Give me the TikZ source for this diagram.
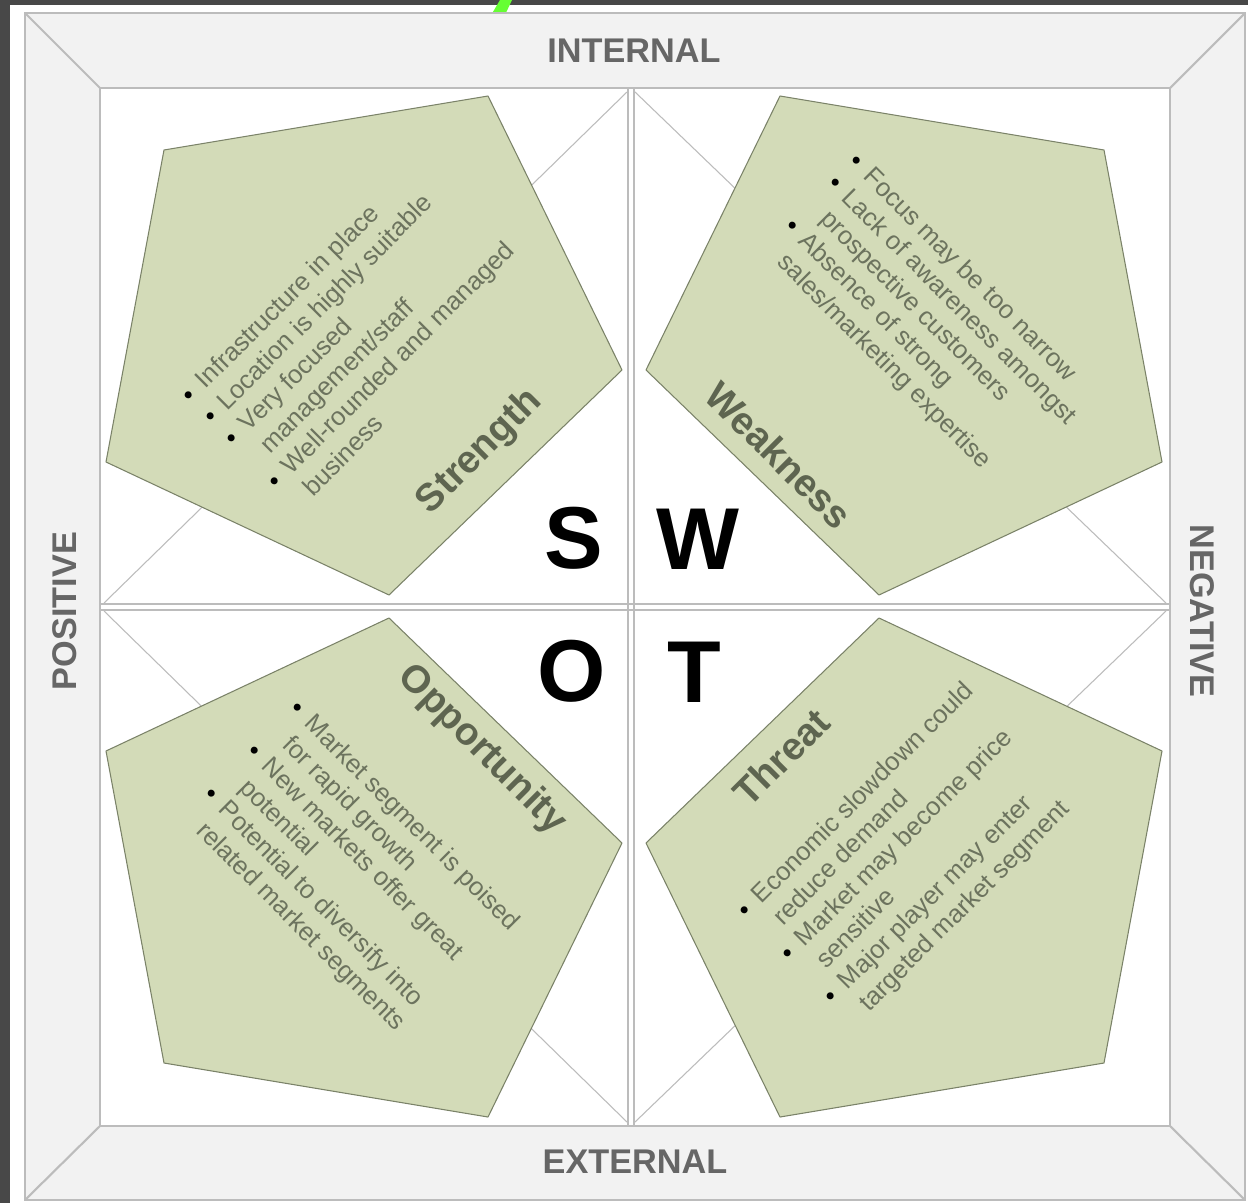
\documentclass[tikz,border=0pt]{standalone}
\usepackage{fontspec}
\setmainfont{Liberation Sans}
\usetikzlibrary{positioning}

\definecolor{backdark}{RGB}{72,72,72}
\definecolor{panelgray}{RGB}{242,242,242}
\definecolor{framegray}{RGB}{188,188,188}
\definecolor{sagefill}{RGB}{211,219,184}
\definecolor{sageline}{RGB}{122,130,104}
\definecolor{sagetext}{RGB}{94,101,80}
\definecolor{pointtext}{RGB}{108,115,94}
\definecolor{markgreen}{RGB}{102,255,51}

\newcommand{\bpt}{\makebox[11.5pt][l]{\textcolor{black}{\textbullet}}}
\newcommand{\bsp}{\hspace*{11.5pt}}

\begin{document}
\begin{tikzpicture}[x=0.02cm, y=-0.02cm,
    frameline/.style={draw=framegray, line width=1.2pt},
    diagline/.style={draw=framegray, line width=0.6pt},
    petal/.style={fill=sagefill, draw=sageline, line width=0.6pt, line join=round},
    sidelabel/.style={font=\bfseries\fontsize{19.5}{22}\selectfont, text=black!60, inner sep=0pt},
    bigletter/.style={font=\bfseries\fontsize{50}{56}\selectfont, inner sep=0pt},
    petallabel/.style={font=\bfseries\fontsize{22}{26}\selectfont, text=sagetext, inner sep=0pt},
    points/.style={font=\fontsize{14.6}{17.3}\selectfont, text=pointtext, align=left, inner sep=0pt, anchor=north west}
]
\useasboundingbox (0,0) rectangle (1248,1203);

% Background
\fill[backdark] (0,0) rectangle (1248,1203);
\fill[white] (10,5) rectangle (1248,1203);
\fill[markgreen] (500,0) -- (512,0) -- (504,17) -- (490,17) -- cycle;

% Frame
\fill[panelgray] (25,13) rectangle (1245,1200);
\fill[white] (100,88) rectangle (1170,1126);
\draw[frameline] (25,13) rectangle (1245,1200);
\draw[frameline] (100,88) rectangle (1170,1126);
\draw[frameline] (25,13) -- (100,88);
\draw[frameline] (1245,13) -- (1170,88);
\draw[frameline] (25,1200) -- (100,1126);
\draw[frameline] (1245,1200) -- (1170,1126);

% Quadrant dividers
\draw[frameline] (628,88) -- (628,1126);
\draw[frameline] (634,88) -- (634,1126);
\draw[frameline] (100,604) -- (1170,604);
\draw[frameline] (100,610) -- (1170,610);

% Diamond
\draw[diagline] (627,92) -- (104,603);
\draw[diagline] (635,92) -- (1166,603);
\draw[diagline] (104,611) -- (627,1122);
\draw[diagline] (1166,611) -- (635,1122);

% Pentagons
\draw[petal] (164,150) -- (488,96) -- (622,370) -- (389,595) -- (106,462) -- cycle;
\draw[petal] (1104,150) -- (780,96) -- (646,370) -- (879,595) -- (1162,462) -- cycle;
\draw[petal] (164,1063) -- (488,1117) -- (622,843) -- (389,618) -- (106,751) -- cycle;
\draw[petal] (1104,1063) -- (780,1117) -- (646,843) -- (879,618) -- (1162,751) -- cycle;

% Side labels
\node[sidelabel] (internal) at (634,51) {INTERNAL};
\node[sidelabel] (external) at (635,1162) {EXTERNAL};
\node[sidelabel, rotate=90] (positive) at (65,611) {POSITIVE};
\node[sidelabel, rotate=-90] (negative) at (1202,611) {NEGATIVE};

% SWOT letters
\node[bigletter] (sletter) at (574,538) {S};
\node[bigletter] (wletter) at (698,539) {W};
\node[bigletter] (oletter) at (572,671) {O};
\node[bigletter] (tletter) at (694,672) {T};

% Petal labels
\node[petallabel, rotate=45] (strength) at (480,452) {Strength};
\node[petallabel, rotate=-45] (weakness) at (779,455) {Weakness};
\node[petallabel, rotate=-45] (opportunity) at (482,750) {Opportunity};
\node[petallabel, rotate=45] (threat) at (781,757) {Threat};

% Points
\node[points, rotate=45] (spoints) at (178,391) {\bpt Infrastructure in place\\
    \bpt Location is highly suitable\\
    \bpt Very focused\\
    \bsp management/staff\\
    \bpt Well-rounded and managed\\
    \bsp business};
\node[points, rotate=-45] (wpoints) at (861,150) {\bpt Focus may be too narrow\\
    \bpt Lack of awareness amongst\\
    \bsp prospective customers\\
    \bpt Absence of strong\\
    \bsp sales/marketing expertise};
\node[points, rotate=-45] (opoints) at (302,697) {\bpt Market segment is poised\\
    \bsp for rapid growth\\
    \bpt New markets offer great\\
    \bsp potential\\
    \bpt Potential to diversify into\\
    \bsp related market segments};
\node[points, rotate=45] (tpoints) at (734,906) {\bpt Economic slowdown could\\
    \bsp reduce demand\\
    \bpt Market may become price\\
    \bsp sensitive\\
    \bpt Major player may enter\\
    \bsp targeted market segment};

\end{tikzpicture}
\end{document}
